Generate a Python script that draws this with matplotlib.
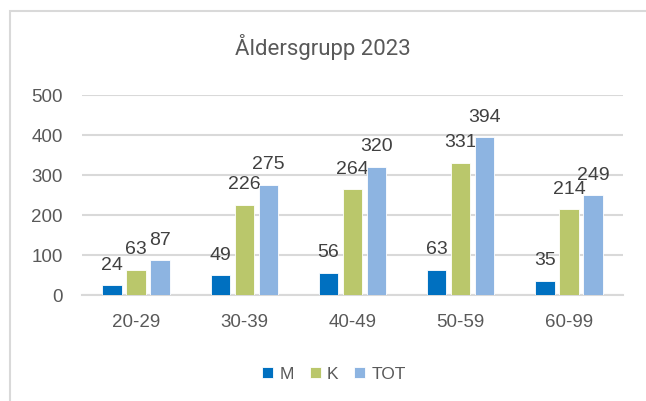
import matplotlib.pyplot as plt
import numpy as np
from matplotlib.patches import Rectangle

categories = ["20-29", "30-39", "40-49", "50-59", "60-99"]
m_vals = [24, 49, 56, 63, 35]
k_vals = [63, 226, 264, 331, 214]
tot_vals = [87, 275, 320, 394, 249]
series_names = ["M", "K", "TOT"]
colors = ["#0070C0", "#BAC76B", "#8DB4E1"]

fig = plt.figure(figsize=(6.46, 4.02), dpi=100)

# light chart frame (cut off on right and bottom like the screenshot)
fig.patches.append(Rectangle((10 / 646, -0.1), 1.2, 1.1 - 12 / 402, transform=fig.transFigure,
                             fill=False, edgecolor="#D9D9D9", linewidth=1.5))

ax = fig.add_axes([82 / 646, 1 - 296 / 402, 541 / 646, 200 / 402])

x = np.arange(len(categories))
step = 0.222
width = 0.178
for i, (vals, name, c) in enumerate(zip([m_vals, k_vals, tot_vals], series_names, colors)):
    pos = x + (i - 1) * step
    bars = ax.bar(pos, vals, width, color=c, label=name, edgecolor="white", linewidth=0.6, zorder=3)
    for b, v in zip(bars, vals):
        ax.annotate(str(v), (b.get_x() + b.get_width() / 2, v), xytext=(0, 9),
                    textcoords="offset points", ha="center", va="bottom",
                    fontsize=14, color="#404040", family="Liberation Sans")

ax.set_xlim(-0.5, len(categories) - 0.5)
ax.set_ylim(0, 500)
ax.set_yticks([0, 100, 200, 300, 400, 500])
ax.set_xticks(x)
ax.set_xticklabels(categories)
ax.grid(axis="y", color="#D9D9D9", linewidth=1.5, zorder=0)
for s in ["top", "right", "left"]:
    ax.spines[s].set_visible(False)
ax.spines["bottom"].set_color("#D9D9D9")
ax.spines["bottom"].set_linewidth(1.5)
ax.tick_params(axis="both", length=0, labelsize=13.5, labelcolor="#595959")
ax.tick_params(axis="y", pad=14)
ax.tick_params(axis="x", pad=13)
for lab in ax.get_xticklabels() + ax.get_yticklabels():
    lab.set_family("Liberation Sans")

fig.text(0.5, 1 - 47 / 402, "Åldersgrupp 2023", ha="center", va="center",
         fontsize=16, color="#595959", family="Roboto")

fig.legend(loc="center", bbox_to_anchor=(334 / 646, 1 - 375 / 402), ncol=3, frameon=False,
           handlelength=0.63, handleheight=0.63, handletextpad=0.35, columnspacing=0.92,
           prop={"family": "Liberation Sans", "size": 12.5}, labelcolor="#595959")

fig.savefig("out.png", dpi=100)
